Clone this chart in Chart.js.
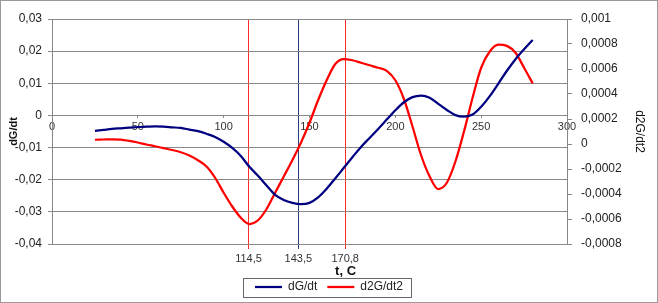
<!DOCTYPE html>
<html>
<head>
<meta charset="utf-8">
<script src="https://cdn.jsdelivr.net/npm/chart.js@4.4.0/dist/chart.umd.min.js"></script>
<style>
  html, body { margin: 0; padding: 0; background: #fff; }
  #wrap { width: 658px; height: 303px; position: relative; }
</style>
</head>
<body>
<div id="wrap"><canvas id="grafico"></canvas></div>
<script>
// temperaturas (t, C)
let temps = [25, 30, 35, 40, 45, 50, 55, 60, 65, 70, 75, 80, 85, 90, 95, 100, 105, 110, 115, 120,
  125, 130, 135, 140, 145, 150, 155, 160, 165, 170, 175, 180, 185, 190, 195, 200, 205, 210, 215, 220,
  225, 230, 235, 240, 245, 250, 255, 260, 265, 270, 275, 280];

// dG/dt (eje izquierdo)
let dGdt = [-0.0048, -0.0045, -0.0042, -0.0040, -0.0038, -0.0036, -0.0035, -0.0034, -0.0035, -0.0037,
  -0.0039, -0.0044, -0.0049, -0.0057, -0.0067, -0.0082, -0.0101, -0.0126, -0.0160, -0.0188,
  -0.0218, -0.0247, -0.0263, -0.0272, -0.0276, -0.0272, -0.0255, -0.0228, -0.0196, -0.0163,
  -0.0130, -0.0098, -0.0070, -0.0042, -0.0013, 0.0016, 0.0041, 0.0057, 0.0062, 0.0055,
  0.0036, 0.0017, 0.0001, -0.0004, 0.0003, 0.0027, 0.0060, 0.0099, 0.0139, 0.0175,
  0.0206, 0.0235];

// d2G/dt2 (eje derecho)
let d2Gdt2 = [0.000034, 0.000036, 0.000038, 0.000035, 0.000025, 0.000012, -0.000004, -0.000018, -0.000033, -0.000048,
  -0.000066, -0.000092, -0.00013, -0.00018, -0.00027, -0.00039, -0.00050, -0.00059, -0.00064, -0.00061,
  -0.00052, -0.00039, -0.00026, -0.00013, 0.00001, 0.00017, 0.00035, 0.00051, 0.00064, 0.00068,
  0.00067, 0.00065, 0.00063, 0.00061, 0.000585, 0.00051, 0.00036, 0.00014, -0.00009, -0.00026,
  -0.00036, -0.00031, -0.00014, 0.00010, 0.00037, 0.00061, 0.00074, 0.000795, 0.000785, 0.00073,
  0.00061, 0.000485];

let ticksIzq = [-0.04, -0.03, -0.02, -0.01, 0, 0.01, 0.02, 0.03];
let ticksDer = [-0.0008, -0.0006, -0.0004, -0.0002, 0, 0.0002, 0.0004, 0.0006, 0.0008, 0.001];
let ticksT = [0, 50, 100, 150, 200, 250, 300];
let marcas = [114.5, 143.5, 170.8];
let nombres = ["dG/dt", "d2G/dt2"];
let tituloX = "t, C";

const fuente = '"Liberation Sans", Arial, sans-serif';
Chart.defaults.font.family = fuente;
Chart.defaults.color = "#222";

function coma(v, dec) {
  return Number(v.toFixed(dec)).toString().replace(".", ",");
}

function puntos(ys) {
  return temps.map((t, i) => ({ x: t, y: ys[i] }));
}

const marco = {
  id: "marco",
  afterDraw(chart) {
    const c = chart.ctx;
    c.save();
    const cajas = chart.legend.legendHitBoxes;
    if (cajas && cajas.length) {
      const ult = cajas[cajas.length - 1];
      const l = Math.round(cajas[0].left - 12), r = Math.round(ult.left + ult.width + 8);
      const t = Math.round(cajas[0].top - 3), b = Math.round(cajas[0].top + cajas[0].height + 4);
      c.strokeStyle = "#666";
      c.lineWidth = 1;
      c.strokeRect(l + 0.5, t + 0.5, r - l, b - t);
    }
    c.font = "bold 13px " + fuente;
    c.fillStyle = "#111";
    c.textAlign = "center";
    c.textBaseline = "middle";
    c.fillText(tituloX, chart.scales.x2.getPixelForValue(171), 271);
    c.strokeStyle = "#999";
    c.strokeRect(0.5, 0.5, chart.width - 1, chart.height - 1);
    c.restore();
  }
};

let ctx = document.getElementById("grafico").getContext("2d");
let grafico = new Chart(ctx, {
  type: "line",
  data: {
    datasets: [
      {
        label: nombres[0],
        data: puntos(dGdt),
        borderColor: "#000080",
        backgroundColor: "#000080",
        borderWidth: 2.25,
        pointRadius: 0,
        pointStyle: "line",
        cubicInterpolationMode: "monotone",
        xAxisID: "x",
        yAxisID: "y"
      },
      {
        label: nombres[1],
        data: puntos(d2Gdt2),
        borderColor: "#ff0000",
        backgroundColor: "#ff0000",
        borderWidth: 2.25,
        pointRadius: 0,
        pointStyle: "line",
        cubicInterpolationMode: "monotone",
        xAxisID: "x",
        yAxisID: "y2"
      }
    ]
  },
  options: {
    responsive: true,
    maintainAspectRatio: false,
    animation: false,
    layout: { padding: { top: 19, bottom: 0, left: 0, right: 0 } },
    plugins: {
      tooltip: { enabled: false },
      legend: {
        position: "bottom",
        labels: {
          usePointStyle: true,
          pointStyleWidth: 27,
          padding: 10,
          color: "#222",
          font: { size: 12 }
        }
      }
    },
    scales: {
      x: {
        type: "linear",
        position: { y: 0 },
        min: 0,
        max: 300,
        afterBuildTicks: s => { s.ticks = ticksT.map(v => ({ value: v })); },
        grid: { drawOnChartArea: false, drawTicks: true, tickLength: 3, color: "#888" },
        border: { display: false },
        ticks: { padding: 2, font: { size: 11 }, color: "#333", maxRotation: 0, callback: v => coma(v, 1) }
      },
      x2: {
        type: "linear",
        position: "bottom",
        min: 0,
        max: 300,
        afterBuildTicks: s => { s.ticks = marcas.map(v => ({ value: v })); },
        afterFit: s => { s.height = 27; },
        grid: {
          drawOnChartArea: true,
          drawTicks: true,
          tickLength: 5,
          lineWidth: 1,
          color: c => (c.tick && c.tick.value === 143.5 ? "#2b3f7c" : "#ff2a2a")
        },
        border: { display: false },
        ticks: { padding: 3, font: { size: 11 }, color: "#333", maxRotation: 0, autoSkip: false, callback: v => coma(v, 1) }
      },
      y: {
        position: "left",
        min: -0.04,
        max: 0.03,
        afterBuildTicks: s => { s.ticks = ticksIzq.map(v => ({ value: v })); },
        afterFit: s => { s.width = 52; },
        grid: { color: "#888", tickLength: 4, lineWidth: 1 },
        border: { color: "#888" },
        ticks: { padding: 6, font: { size: 12 }, color: "#222", callback: v => coma(v, 2) },
        title: { display: true, text: nombres[0], font: { size: 11, weight: "bold" }, color: "#111", padding: { top: 7, bottom: 0 } }
      },
      y2: {
        position: "right",
        min: -0.0008,
        max: 0.001,
        afterBuildTicks: s => { s.ticks = ticksDer.map(v => ({ value: v })); },
        afterFit: s => { s.width = 91; },
        grid: { drawOnChartArea: false, color: "#888", tickLength: 5 },
        border: { color: "#888" },
        ticks: { padding: 9, font: { size: 12 }, color: "#222", callback: v => coma(v, 4) },
        title: { display: true, text: nombres[1], font: { size: 12 }, color: "#111", padding: { top: 11, bottom: 0 } }
      }
    }
  },
  plugins: [marco]
});
</script>
</body>
</html>
